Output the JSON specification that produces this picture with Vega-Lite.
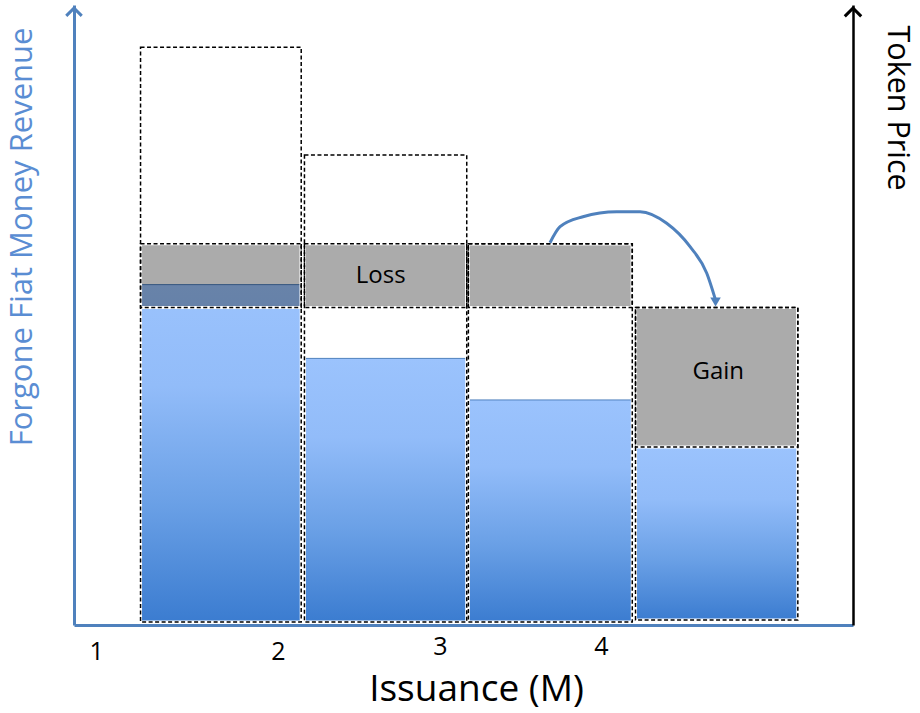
{
  "$schema": "https://vega.github.io/schema/vega-lite/v6.json",
  "width": 779,
  "height": 620,
  "autosize": {"type": "none"},
  "padding": {"left": 74, "top": 5, "right": 67, "bottom": 88},
  "background": "white",
  "config": {
    "view": {"stroke": null},
    "axis": {"grid": false, "ticks": false, "labels": false, "titleFont": "Open Sans", "labelFont": "Open Sans", "titleFontWeight": "normal"},
    "axisX": {
      "domainColor": "#4f81bd", "domainWidth": 3,
      "labels": true, "labelColor": "black", "labelBaseline": "middle", "labelFontSize": 25,
      "titleFontSize": 37, "titleColor": "black",
      "titleX": 402, "titleY": 75, "titleBaseline": "alphabetic", "titleAlign": "center"
    },
    "text": {"font": "Open Sans"}
  },
  "datasets": {
    "columns": [
      {"column": 1, "x": 0.41, "x2": 1.40, "base": 0.05, "top": 9.32, "revenue": 5.49},
      {"column": 2, "x": 1.42, "x2": 2.42, "base": 0.05, "top": 7.58, "revenue": 4.30},
      {"column": 3, "x": 2.43, "x2": 3.44, "base": 0.05, "top": 6.15, "revenue": 3.63},
      {"column": 4, "x": 3.46, "x2": 4.46, "base": 0.08, "top": 5.12, "revenue": 2.87}
    ],
    "bands": [
      {"band": "Loss", "column": 1, "x": 0.41, "x2": 1.40, "y": 5.12, "y2": 6.15},
      {"band": "Loss", "column": 2, "x": 1.42, "x2": 2.42, "y": 5.12, "y2": 6.15},
      {"band": "Loss", "column": 3, "x": 2.43, "x2": 3.44, "y": 5.12, "y2": 6.15},
      {"band": "Gain", "column": 4, "x": 3.46, "x2": 4.46, "y": 2.87, "y2": 5.12}
    ],
    "labels": [
      {"text": "Loss", "x": 1.89, "y": 5.63},
      {"text": "Gain", "x": 3.97, "y": 4.08}
    ],
    "transfer": [
      {"x": 2.933, "y": 6.166},
      {"x": 2.995, "y": 6.424},
      {"x": 3.136, "y": 6.585},
      {"x": 3.344, "y": 6.666},
      {"x": 3.488, "y": 6.666},
      {"x": 3.652, "y": 6.479},
      {"x": 3.796, "y": 6.102},
      {"x": 3.899, "y": 5.673},
      {"x": 3.950, "y": 5.269}
    ]
  },
  "resolve": {"axis": {"y": "independent"}},
  "layer": [
    {
      "data": {"name": "columns"},
      "mark": {"type": "rect", "fill": "white", "strokeWidth": 0},
      "encoding": {
        "x": {
          "field": "x", "type": "quantitative",
          "scale": {"domain": [0, 4.8], "nice": false, "zero": false},
          "axis": {
            "values": [0.136, 1.257, 2.255, 3.247],
            "labelExpr": "datum.value < 1 ? '1' : format(floor(datum.value) + 1, 'd')",
            "labelPadding": {"condition": {"test": "datum.value > 2", "value": 21}, "value": 26},
            "title": "Issuance (M)"
          }
        },
        "x2": {"field": "x2"},
        "y": {
          "field": "base", "type": "quantitative",
          "scale": {"domain": [0, 10], "nice": false, "zero": false},
          "axis": {
            "orient": "left", "domainColor": "#4f81bd", "domainWidth": 3,
            "title": "Forgone Fiat Money Revenue", "titleColor": "#5a8dd3", "titleFontSize": 31,
            "titleAngle": -90, "titleAlign": "right", "titleBaseline": "middle",
            "titleX": -52, "titleY": 22
          }
        },
        "y2": {"field": "top"}
      }
    },
    {
      "data": {"name": "columns"},
      "mark": {
        "type": "rect",
        "fill": {
          "gradient": "linear", "x1": 0, "y1": 0, "x2": 0, "y2": 1,
          "stops": [
            {"offset": 0, "color": "#9bc3fd"},
            {"offset": 0.3, "color": "#92bcf9"},
            {"offset": 0.65, "color": "#6aa0e6"},
            {"offset": 1, "color": "#3b7cd0"}
          ]
        },
        "stroke": "#4f81bd", "strokeWidth": 1
      },
      "encoding": {
        "x": {"field": "x", "type": "quantitative", "scale": {"domain": [0, 4.8], "nice": false, "zero": false}, "title": "Issuance (M)"},
        "x2": {"field": "x2"},
        "y": {"field": "base", "type": "quantitative", "scale": {"domain": [0, 10], "nice": false, "zero": false}, "axis": null},
        "y2": {"field": "revenue"}
      }
    },
    {
      "data": {"name": "bands"},
      "mark": {"type": "rect", "fill": "black", "fillOpacity": 0.33, "strokeWidth": 0},
      "encoding": {
        "x": {"field": "x", "type": "quantitative", "scale": {"domain": [0, 4.8], "nice": false, "zero": false}, "title": "Issuance (M)"},
        "x2": {"field": "x2"},
        "y": {"field": "y", "type": "quantitative", "scale": {"domain": [0, 10], "nice": false, "zero": false}, "axis": null},
        "y2": {"field": "y2"}
      }
    },
    {
      "data": {"name": "columns"},
      "mark": {"type": "rect", "fillOpacity": 0, "stroke": "white", "strokeWidth": 3},
      "encoding": {
        "x": {"field": "x", "type": "quantitative", "scale": {"domain": [0, 4.8], "nice": false, "zero": false}, "title": "Issuance (M)"},
        "x2": {"field": "x2"},
        "y": {"field": "base", "type": "quantitative", "scale": {"domain": [0, 10], "nice": false, "zero": false}, "axis": null},
        "y2": {"field": "top"}
      }
    },
    {
      "data": {"name": "bands"},
      "mark": {"type": "rect", "fillOpacity": 0, "stroke": "white", "strokeWidth": 3},
      "encoding": {
        "x": {"field": "x", "type": "quantitative", "scale": {"domain": [0, 4.8], "nice": false, "zero": false}, "title": "Issuance (M)"},
        "x2": {"field": "x2"},
        "y": {"field": "y", "type": "quantitative", "scale": {"domain": [0, 10], "nice": false, "zero": false}, "axis": null},
        "y2": {"field": "y2"}
      }
    },
    {
      "data": {"name": "columns"},
      "mark": {"type": "rect", "fillOpacity": 0, "stroke": "black", "strokeWidth": 1.5, "strokeDash": [4, 2.5]},
      "encoding": {
        "x": {"field": "x", "type": "quantitative", "scale": {"domain": [0, 4.8], "nice": false, "zero": false}, "title": "Issuance (M)"},
        "x2": {"field": "x2"},
        "y": {"field": "base", "type": "quantitative", "scale": {"domain": [0, 10], "nice": false, "zero": false}, "axis": null},
        "y2": {"field": "top"}
      }
    },
    {
      "data": {"name": "bands"},
      "mark": {"type": "rect", "fillOpacity": 0, "stroke": "black", "strokeWidth": 1.5, "strokeDash": [4, 2.5]},
      "encoding": {
        "x": {"field": "x", "type": "quantitative", "scale": {"domain": [0, 4.8], "nice": false, "zero": false}, "title": "Issuance (M)"},
        "x2": {"field": "x2"},
        "y": {"field": "y", "type": "quantitative", "scale": {"domain": [0, 10], "nice": false, "zero": false}, "axis": null},
        "y2": {"field": "y2"}
      }
    },
    {
      "data": {"name": "labels"},
      "mark": {"type": "text", "fontSize": 24, "color": "black", "align": "center", "baseline": "middle", "font": "Open Sans"},
      "encoding": {
        "x": {"field": "x", "type": "quantitative", "scale": {"domain": [0, 4.8], "nice": false, "zero": false}, "title": "Issuance (M)"},
        "y": {"field": "y", "type": "quantitative", "scale": {"domain": [0, 10], "nice": false, "zero": false}, "axis": null},
        "text": {"field": "text"}
      }
    },
    {
      "data": {"name": "transfer"},
      "mark": {"type": "line", "interpolate": "monotone", "stroke": "#4f81bd", "strokeWidth": 3},
      "encoding": {
        "x": {"field": "x", "type": "quantitative", "scale": {"domain": [0, 4.8], "nice": false, "zero": false}, "title": "Issuance (M)"},
        "y": {"field": "y", "type": "quantitative", "scale": {"domain": [0, 10], "nice": false, "zero": false}, "axis": null}
      }
    },
    {
      "data": {"values": [{"x": 3.953, "y": 5.21}]},
      "mark": {"type": "point", "shape": "triangle-down", "filled": true, "size": 110, "color": "#4f81bd", "opacity": 1},
      "encoding": {
        "x": {"field": "x", "type": "quantitative", "scale": {"domain": [0, 4.8], "nice": false, "zero": false}, "title": "Issuance (M)"},
        "y": {"field": "y", "type": "quantitative", "scale": {"domain": [0, 10], "nice": false, "zero": false}, "axis": null}
      }
    },
    {
      "data": {"values": [{"x": 0, "y": 9.95}]},
      "mark": {"type": "point", "shape": "M-1,1L0,0L1,1", "filled": false, "size": 240, "stroke": "#4f81bd", "strokeWidth": 3, "opacity": 1},
      "encoding": {
        "x": {"field": "x", "type": "quantitative", "scale": {"domain": [0, 4.8], "nice": false, "zero": false}, "title": "Issuance (M)"},
        "y": {"field": "y", "type": "quantitative", "scale": {"domain": [0, 10], "nice": false, "zero": false}, "axis": null}
      }
    },
    {
      "data": {"values": [{"x": 4.8, "y": 9.95}]},
      "mark": {"type": "point", "shape": "M-1,1L0,0L1,1", "filled": false, "size": 270, "stroke": "black", "strokeWidth": 3, "opacity": 1},
      "encoding": {
        "x": {"field": "x", "type": "quantitative", "scale": {"domain": [0, 4.8], "nice": false, "zero": false}, "title": "Issuance (M)"},
        "y": {
          "field": "y", "type": "quantitative",
          "scale": {"domain": [0, 10], "nice": false, "zero": false},
          "axis": {
            "orient": "right", "domainColor": "black", "domainWidth": 2.5,
            "title": "Token Price", "titleColor": "black", "titleFontSize": 30.5,
            "titleAngle": 90, "titleAlign": "left", "titleBaseline": "middle",
            "titleX": 43, "titleY": 20
          }
        }
      }
    }
  ]
}
